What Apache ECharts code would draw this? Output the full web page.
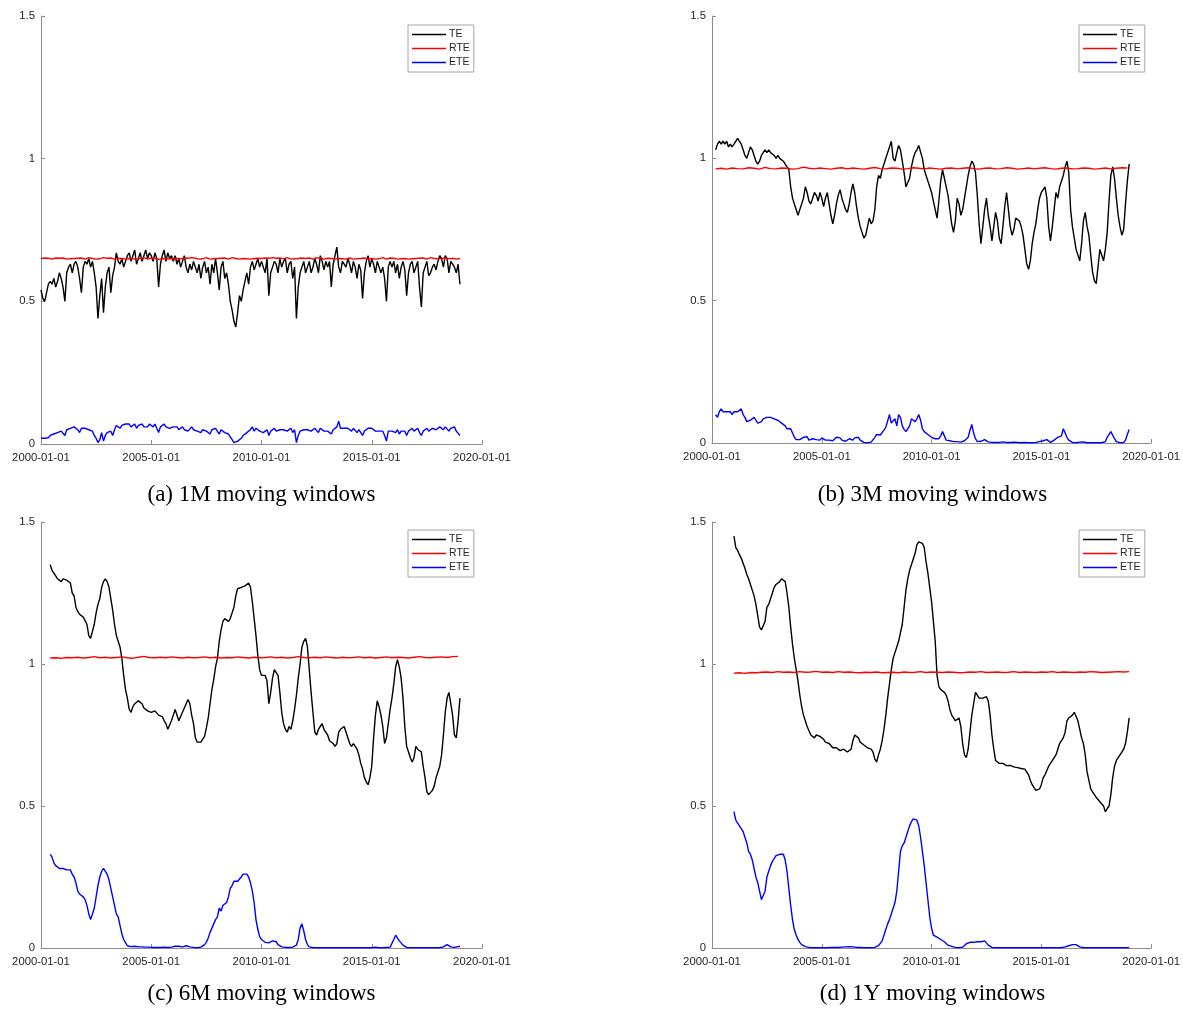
<!DOCTYPE html>
<html>
<head>
<meta charset="utf-8">
<script src="https://cdn.jsdelivr.net/npm/echarts@6/dist/echarts.min.js"></script>
<style>
  html, body { margin: 0; padding: 0; background: #fff; }
  #chart { width: 1183px; height: 1011px; }
</style>
</head>
<body>
<div id="chart"></div>
<script>
// x ticks (years), y ticks
const xTickYears = [2000, 2005, 2010, 2015, 2020]
const yTicks = [0, 0.5, 1, 1.5]
const seriesNames = ['TE', 'RTE', 'ETE']
const captions = ['(a) 1M moving windows', '(b) 3M moving windows', '(c) 6M moving windows', '(d) 1Y moving windows']

// first observation of each panel (fractional year)
const startYears = [2000, 2000 + 2 / 12, 2000 + 5 / 12, 2001]

// ---- (a) 1M, monthly from 2000-01
const teA = [
  0.54,0.51,0.50,0.53,0.56,0.57,0.56,0.58,0.55,0.57,0.60,0.58,
  0.55,0.50,0.60,0.62,0.63,0.60,0.63,0.64,0.62,0.58,0.53,0.62,
  0.64,0.63,0.65,0.62,0.64,0.60,0.55,0.44,0.52,0.58,0.46,0.55,
  0.60,0.62,0.53,0.59,0.62,0.67,0.64,0.63,0.65,0.62,0.64,0.66,
  0.67,0.64,0.66,0.68,0.63,0.65,0.67,0.64,0.66,0.68,0.65,0.67,
  0.66,0.64,0.67,0.65,0.55,0.63,0.66,0.68,0.64,0.67,0.65,0.66,
  0.64,0.66,0.63,0.65,0.62,0.64,0.66,0.62,0.60,0.63,0.61,0.64,
  0.62,0.60,0.63,0.58,0.62,0.64,0.60,0.62,0.56,0.63,0.60,0.65,
  0.60,0.54,0.62,0.64,0.58,0.60,0.56,0.50,0.47,0.43,0.41,0.46,
  0.52,0.50,0.54,0.57,0.60,0.56,0.62,0.64,0.61,0.63,0.65,0.62,
  0.64,0.62,0.60,0.65,0.52,0.60,0.62,0.64,0.63,0.60,0.65,0.62,
  0.64,0.65,0.60,0.63,0.64,0.58,0.62,0.44,0.55,0.60,0.62,0.64,
  0.60,0.62,0.64,0.60,0.62,0.65,0.63,0.60,0.66,0.64,0.61,0.64,
  0.62,0.64,0.55,0.63,0.66,0.69,0.62,0.60,0.64,0.63,0.62,0.65,
  0.63,0.60,0.64,0.62,0.58,0.63,0.61,0.51,0.60,0.64,0.66,0.62,
  0.65,0.63,0.60,0.64,0.62,0.60,0.62,0.58,0.50,0.62,0.64,0.62,
  0.64,0.60,0.63,0.58,0.62,0.64,0.61,0.52,0.60,0.63,0.64,0.60,
  0.62,0.64,0.55,0.48,0.60,0.62,0.64,0.59,0.60,0.62,0.63,0.61,
  0.64,0.66,0.65,0.62,0.66,0.65,0.60,0.64,0.63,0.62,0.60,0.63,
  0.56
]
const rteA = [
  .650,.648,.652,.649,.651,.653,.648,.650,.652,.647,.651,.649,
  .652,.650,.648,.651,.649,.653,.650,.647,.651,.649,.652,.650,
  .648,.651,.653,.649,.650,.652,.648,.651,.649,.650,.653,.648,
  .651,.649,.652,.650,.648,.653,.651,.649,.650,.652,.648,.651,
  .650,.653,.649,.651,.648,.652,.650,.649,.653,.651,.648,.650,
  .652,.649,.651,.650,.647,.652,.650,.653,.649,.651,.648,.652,
  .650,.648,.651,.653,.649,.650,.652,.648,.651,.650,.653,.649,
  .651,.650,.648,.652,.649,.651,.653,.650,.648,.651,.649,.652,
  .650,.647,.651,.649,.652,.650,.648,.651,.653,.649,.650,.652,
  .648,.651,.650,.653,.649,.651,.648,.652,.650,.649,.651,.653,
  .650,.648,.652,.649,.651,.650,.653,.648,.651,.649,.652,.650,
  .649,.651,.653,.650,.648,.652,.649,.651,.650,.648,.652,.651,
  .650,.649,.652,.651,.648,.650,.653,.649,.651,.650,.648,.652,
  .651,.649,.650,.653,.648,.651,.650,.652,.649,.651,.648,.650,
  .652,.650,.648,.651,.649,.653,.650,.648,.652,.650,.649,.651,
  .650,.652,.648,.651,.649,.650,.653,.651,.648,.650,.652,.649,
  .651,.650,.648,.652,.649,.651,.650,.653,.648,.651,.649,.652,
  .650,.648,.651,.649,.652,.650,.648,.651,.653,.649,.650,.652,
  .649,.651,.650,.648,.652,.650,.649,.653,.651,.650,.648,.651,
  .650
]
const eteA = [
  0.020,0.018,0.020,0.025,0.022,0.030,0.028,0.035,0.030,0.040,0.035,0.045,
  0.040,0.030,0.050,0.045,0.055,0.050,0.060,0.055,0.050,0.040,0.055,0.060,
  0.055,0.060,0.050,0.055,0.045,0.030,0.020,0.005,0.015,0.040,0.010,0.030,
  0.040,0.035,0.045,0.030,0.050,0.065,0.060,0.055,0.065,0.060,0.070,0.065,
  0.070,0.060,0.065,0.070,0.055,0.065,0.060,0.070,0.060,0.065,0.060,0.070,
  0.065,0.060,0.070,0.055,0.040,0.060,0.065,0.070,0.060,0.065,0.055,0.060,
  0.060,0.055,0.060,0.050,0.055,0.060,0.050,0.055,0.045,0.050,0.060,0.050,
  0.055,0.045,0.050,0.040,0.050,0.055,0.045,0.050,0.035,0.050,0.045,0.055,
  0.050,0.035,0.050,0.055,0.040,0.045,0.035,0.025,0.015,0.005,0.003,0.010,
  0.015,0.020,0.030,0.025,0.040,0.045,0.050,0.060,0.045,0.055,0.050,0.045,
  0.050,0.040,0.045,0.050,0.030,0.045,0.050,0.055,0.045,0.040,0.050,0.045,
  0.050,0.055,0.045,0.050,0.055,0.040,0.050,0.005,0.030,0.045,0.050,0.050,
  0.045,0.050,0.055,0.045,0.050,0.055,0.050,0.040,0.055,0.050,0.045,0.050,
  0.045,0.050,0.035,0.050,0.055,0.060,0.080,0.055,0.050,0.055,0.050,0.055,
  0.050,0.045,0.055,0.050,0.040,0.050,0.045,0.030,0.045,0.050,0.055,0.050,
  0.055,0.050,0.045,0.050,0.045,0.040,0.045,0.030,0.010,0.045,0.050,0.045,
  0.050,0.040,0.050,0.035,0.045,0.050,0.045,0.030,0.045,0.050,0.055,0.045,
  0.050,0.055,0.040,0.030,0.045,0.050,0.055,0.045,0.050,0.055,0.060,0.050,
  0.055,0.060,0.055,0.050,0.060,0.055,0.045,0.055,0.050,0.060,0.045,0.050,
  0.030
]

// ---- (b) 3M, monthly from 2000-03
const teB = [
  1.03,1.05,1.06,1.05,1.06,1.05,1.06,1.04,1.05,1.04,
  1.05,1.06,1.07,1.07,1.05,1.03,1.01,1.00,1.02,1.04,1.03,1.01,
  0.99,0.98,0.99,1.01,1.02,1.03,1.02,1.03,1.02,1.02,1.01,1.00,
  1.01,1.00,1.00,0.99,0.98,0.97,0.96,0.90,0.86,0.84,0.82,0.80,
  0.80,0.84,0.86,0.90,0.88,0.85,0.84,0.86,0.88,0.87,0.85,0.88,
  0.86,0.83,0.86,0.88,0.84,0.80,0.77,0.80,0.84,0.87,0.89,0.86,
  0.84,0.82,0.81,0.84,0.88,0.91,0.88,0.83,0.79,0.76,0.74,0.72,
  0.73,0.76,0.79,0.77,0.78,0.82,0.90,0.94,0.93,0.96,0.98,1.00,
  1.02,1.04,1.06,1.00,0.99,1.02,1.045,1.03,0.99,0.95,0.90,0.90,
  0.93,0.97,1.00,1.02,1.03,1.045,1.04,1.00,0.96,0.94,0.92,0.90,
  0.88,0.85,0.82,0.79,0.85,0.92,0.96,0.93,0.90,0.87,0.82,0.77,
  0.74,0.78,0.86,0.84,0.80,0.82,0.86,0.90,0.94,0.97,0.99,0.98,
  0.95,0.87,0.77,0.70,0.76,0.82,0.86,0.80,0.76,0.71,0.76,0.81,
  0.78,0.72,0.70,0.76,0.83,0.88,0.82,0.76,0.73,0.75,0.79,0.79,
  0.78,0.76,0.73,0.68,0.63,0.61,0.64,0.70,0.74,0.77,0.82,0.86,
  0.88,0.89,0.90,0.86,0.76,0.71,0.76,0.82,0.88,0.86,0.90,0.92,
  0.94,0.97,0.99,0.95,0.82,0.76,0.72,0.68,0.66,0.64,0.70,0.78,
  0.81,0.76,0.73,0.66,0.60,0.57,0.56,0.62,0.68,0.66,0.64,0.68,
  0.74,0.85,0.94,0.97,0.93,0.86,0.80,0.76,0.73,0.75,0.84,0.92,
  0.98
]
const rteB = [
  .963,.965,.962,.966,.964,.963,.967,.965,.962,.968,
  .964,.963,.966,.965,.962,.964,.969,.965,.963,.966,
  .964,.962,.965,.967,.963,.966,.964,.962,.965,.968,
  .964,.963,.966,.965,.962,.964,.967,.965,.963,.966,
  .964,.962,.965,.966,.963,.965,.967,.964,.962,.965,
  .966,.963,.964,.967,.965,.962,.964,.966,.963,.965,
  .967,.964,.962,.965,.966,.963,.964,.966,.965,.962,
  .964,.966,.963,.965,.967,.966
]
const eteB = [
  0.100,0.090,0.110,0.120,0.110,0.115,0.110,0.105,0.110,0.100,
  0.110,0.105,0.110,0.115,0.120,0.100,0.090,0.075,0.070,0.080,0.085,0.090,
  0.080,0.070,0.065,0.075,0.085,0.080,0.090,0.085,0.090,0.088,0.085,0.080,
  0.080,0.075,0.070,0.065,0.060,0.050,0.045,0.050,0.035,0.020,0.012,0.010,
  0.012,0.015,0.020,0.018,0.022,0.010,0.008,0.015,0.020,0.012,0.008,0.010,
  0.018,0.020,0.010,0.006,0.010,0.005,0.008,0.012,0.020,0.025,0.018,0.010,
  0.008,0.006,0.010,0.015,0.012,0.010,0.018,0.025,0.020,0.010,0.005,0.002,
  0.002,0.001,0.001,0.003,0.008,0.020,0.030,0.035,0.028,0.030,0.045,0.055,
  0.060,0.100,0.070,0.065,0.085,0.060,0.100,0.090,0.060,0.048,0.040,0.035,
  0.060,0.085,0.080,0.075,0.085,0.100,0.080,0.050,0.040,0.035,0.030,0.025,
  0.020,0.015,0.015,0.010,0.015,0.025,0.040,0.025,0.010,0.008,0.008,0.006,
  0.005,0.004,0.005,0.006,0.003,0.005,0.008,0.010,0.020,0.045,0.065,0.035,
  0.015,0.005,0.004,0.006,0.010,0.012,0.008,0.004,0.003,0.002,0.003,0.002,
  0.001,0.002,0.003,0.004,0.006,0.002,0.001,0.002,0.008,0.003,0.001,0.002,
  0.002,0.001,0.001,0.002,0.001,0.001,0.002,0.001,0.001,0.002,0.003,0.005,
  0.010,0.008,0.015,0.012,0.005,0.002,0.005,0.010,0.015,0.020,0.015,0.025,
  0.050,0.045,0.020,0.010,0.005,0.002,0.001,0.001,0.002,0.003,0.005,0.004,
  0.002,0.001,0.001,0.001,0.002,0.001,0.001,0.001,0.001,0.001,0.002,0.005,
  0.020,0.030,0.040,0.035,0.015,0.005,0.001,0.001,0.001,0.002,0.010,0.030,
  0.047
]

// ---- (c) 6M, monthly from 2000-06
const teC = [
  1.35,1.33,1.32,1.31,1.30,1.30,1.29,
  1.30,1.30,1.295,1.29,1.285,1.25,1.24,1.20,1.185,1.175,1.17,1.165,
  1.16,1.14,1.10,1.09,1.095,1.14,1.18,1.21,1.23,1.27,1.29,1.30,
  1.29,1.27,1.23,1.19,1.14,1.10,1.08,1.06,1.02,0.96,0.91,0.88,
  0.84,0.83,0.85,0.86,0.855,0.87,0.875,0.86,0.845,0.84,0.835,0.84,
  0.83,0.83,0.835,0.83,0.82,0.82,0.815,0.80,0.79,0.77,0.775,0.80,
  0.82,0.84,0.845,0.80,0.795,0.83,0.845,0.86,0.875,0.86,0.82,0.79,
  0.74,0.725,0.72,0.725,0.73,0.745,0.775,0.81,0.86,0.91,0.945,0.99,
  1.02,1.08,1.12,1.15,1.16,1.155,1.15,1.16,1.18,1.20,1.24,1.265,
  1.265,1.27,1.27,1.275,1.28,1.285,1.27,1.22,1.16,1.10,1.03,0.98,
  0.96,0.965,0.96,0.94,0.86,0.90,0.95,0.98,0.97,0.96,0.90,0.83,
  0.79,0.77,0.76,0.78,0.77,0.80,0.84,0.89,0.95,1.00,1.06,1.08,
  1.09,1.06,0.98,0.90,0.83,0.76,0.75,0.77,0.78,0.79,0.77,0.775,
  0.75,0.73,0.725,0.72,0.71,0.72,0.76,0.77,0.775,0.78,0.76,0.74,
  0.72,0.71,0.72,0.715,0.70,0.68,0.65,0.63,0.60,0.585,0.575,0.60,
  0.64,0.74,0.82,0.87,0.85,0.82,0.78,0.72,0.74,0.79,0.84,0.88,
  0.93,0.99,1.015,0.99,0.95,0.88,0.78,0.71,0.69,0.67,0.655,0.67,
  0.71,0.70,0.705,0.69,0.64,0.60,0.55,0.54,0.545,0.555,0.57,0.60,
  0.62,0.64,0.68,0.75,0.83,0.88,0.90,0.90,0.82,0.75,0.74,0.80,
  0.88
]
const rteC = [
  1.021,1.022,1.020,1.023,1.022,1.024,1.021,1.023,1.026,1.022,
  1.024,1.021,1.023,1.025,1.022,1.020,1.024,1.027,1.023,1.022,
  1.024,1.022,1.025,1.023,1.021,1.024,1.022,1.023,1.025,1.022,
  1.024,1.021,1.023,1.022,1.025,1.023,1.021,1.024,1.022,1.023,
  1.025,1.022,1.024,1.021,1.023,1.026,1.023,1.022,1.024,1.022,
  1.025,1.023,1.021,1.024,1.022,1.023,1.025,1.022,1.024,1.021,
  1.023,1.025,1.022,1.024,1.023,1.021,1.024,1.026,1.023,1.022,
  1.024,1.025,1.023,1.026,1.027
]
const eteC = [
  0.330,0.320,0.300,0.290,0.285,0.280,0.285,
  0.280,0.280,0.275,0.270,0.275,0.260,0.250,0.230,0.200,0.190,0.190,0.180,
  0.170,0.150,0.120,0.100,0.105,0.140,0.180,0.220,0.250,0.270,0.280,0.275,
  0.260,0.240,0.210,0.180,0.150,0.120,0.110,0.080,0.050,0.030,0.018,0.008,
  0.006,0.005,0.005,0.006,0.005,0.004,0.005,0.004,0.004,0.003,0.003,0.003,
  0.002,0.002,0.003,0.002,0.002,0.002,0.002,0.003,0.002,0.002,0.003,0.003,
  0.004,0.006,0.010,0.006,0.003,0.004,0.006,0.008,0.006,0.004,0.002,0.002,
  0.001,0.001,0.002,0.003,0.006,0.012,0.020,0.035,0.055,0.070,0.085,0.100,
  0.110,0.140,0.130,0.150,0.145,0.160,0.180,0.210,0.220,0.235,0.240,0.235,
  0.240,0.250,0.260,0.255,0.260,0.250,0.230,0.200,0.160,0.100,0.065,0.040,
  0.030,0.025,0.020,0.020,0.018,0.020,0.025,0.030,0.022,0.012,0.006,0.004,
  0.003,0.002,0.002,0.002,0.002,0.003,0.005,0.010,0.030,0.070,0.085,0.060,
  0.030,0.012,0.004,0.002,0.001,0.001,0.001,0.001,0.001,0.001,0.001,0.001,
  0.001,0.001,0.001,0.001,0.001,0.001,0.001,0.001,0.001,0.001,0.001,0.001,
  0.001,0.001,0.001,0.001,0.001,0.001,0.001,0.001,0.001,0.001,0.001,0.001,
  0.001,0.002,0.003,0.002,0.001,0.001,0.001,0.001,0.002,0.002,0.003,0.010,
  0.030,0.045,0.035,0.025,0.018,0.010,0.005,0.002,0.001,0.001,0.001,0.001,
  0.001,0.001,0.001,0.001,0.001,0.001,0.001,0.001,0.001,0.001,0.001,0.001,
  0.001,0.001,0.002,0.004,0.008,0.012,0.010,0.004,0.002,0.002,0.003,0.005,
  0.006
]

// ---- (d) 1Y, monthly from 2001-01
const teD = [
  1.45,1.41,1.40,1.385,1.372,1.355,1.337,1.315,1.30,1.28,1.26,1.24,
  1.21,1.17,1.13,1.12,1.12,1.15,1.20,1.21,1.23,1.25,1.27,1.28,
  1.285,1.29,1.30,1.305,1.29,1.25,1.20,1.13,1.07,1.02,0.98,0.94,
  0.89,0.85,0.82,0.80,0.78,0.765,0.75,0.745,0.74,0.75,0.745,0.745,
  0.74,0.735,0.725,0.73,0.72,0.715,0.705,0.70,0.705,0.70,0.695,0.70,
  0.70,0.70,0.69,0.685,0.70,0.73,0.75,0.755,0.74,0.725,0.72,0.715,
  0.71,0.705,0.705,0.70,0.69,0.665,0.655,0.68,0.70,0.73,0.77,0.82,
  0.88,0.93,0.98,1.02,1.04,1.06,1.08,1.11,1.14,1.20,1.26,1.30,
  1.33,1.35,1.37,1.39,1.42,1.43,1.43,1.425,1.41,1.36,1.32,1.27,
  1.22,1.15,1.08,0.96,0.92,0.91,0.905,0.90,0.89,0.87,0.84,0.82,
  0.81,0.80,0.795,0.81,0.78,0.72,0.68,0.67,0.70,0.76,0.82,0.86,
  0.90,0.89,0.88,0.875,0.88,0.88,0.885,0.87,0.82,0.75,0.70,0.66,
  0.655,0.65,0.648,0.65,0.645,0.642,0.64,0.643,0.64,0.638,0.64,0.635,
  0.635,0.632,0.635,0.63,0.625,0.61,0.59,0.575,0.565,0.555,0.55,0.56,
  0.575,0.60,0.61,0.625,0.64,0.65,0.66,0.67,0.68,0.70,0.72,0.73,
  0.74,0.76,0.80,0.81,0.815,0.82,0.83,0.83,0.80,0.77,0.74,0.72,
  0.68,0.62,0.59,0.56,0.55,0.54,0.53,0.525,0.515,0.51,0.50,0.48,
  0.475,0.50,0.54,0.60,0.64,0.66,0.67,0.68,0.69,0.70,0.72,0.76,
  0.81
]
const rteD = [
  .968,.969,.967,.970,.969,.971,.972,.970,.973,.971,
  .972,.970,.973,.971,.972,.974,.971,.972,.970,.973,
  .971,.972,.970,.969,.971,.970,.972,.969,.970,.971,
  .969,.972,.970,.971,.973,.970,.972,.971,.970,.972,
  .971,.969,.970,.972,.971,.973,.970,.971,.972,.970,
  .971,.973,.970,.972,.971,.970,.972,.971,.973,.970,
  .972,.971,.970,.972,.971,.973,.972,.970,.971,.972,
  .973,.972,.973
]
const eteD = [
  0.48,0.45,0.44,0.43,0.42,0.41,0.39,0.37,0.34,0.33,0.31,0.28,
  0.25,0.23,0.20,0.17,0.175,0.20,0.25,0.27,0.29,0.305,0.315,0.325,
  0.33,0.33,0.335,0.33,0.31,0.27,0.21,0.15,0.10,0.065,0.045,0.03,
  0.02,0.012,0.008,0.005,0.003,0.002,0.001,0.001,0.001,0.001,0.001,0.001,
  0.001,0.001,0.001,0.001,0.001,0.002,0.002,0.002,0.002,0.002,0.003,0.003,
  0.003,0.004,0.004,0.005,0.005,0.004,0.003,0.002,0.002,0.002,0.001,0.001,
  0.001,0.001,0.001,0.001,0.001,0.002,0.004,0.008,0.015,0.025,0.045,0.065,
  0.085,0.10,0.12,0.14,0.16,0.20,0.27,0.34,0.36,0.37,0.39,0.41,
  0.43,0.445,0.455,0.455,0.45,0.43,0.39,0.34,0.29,0.23,0.17,0.11,
  0.07,0.045,0.04,0.038,0.035,0.03,0.028,0.022,0.015,0.01,0.008,0.006,
  0.004,0.002,0.001,0.001,0.001,0.003,0.008,0.015,0.022,0.02,0.018,0.02,
  0.022,0.022,0.02,0.022,0.024,0.025,0.02,0.01,0.004,0.002,0.001,0.001,
  0.001,0.001,0.001,0.001,0.001,0.001,0.001,0.001,0.001,0.001,0.001,0.001,
  0.001,0.001,0.001,0.001,0.001,0.001,0.001,0.001,0.001,0.001,0.001,0.001,
  0.001,0.001,0.001,0.001,0.001,0.001,0.001,0.001,0.001,0.001,0.001,0.001,
  0.002,0.004,0.006,0.008,0.01,0.012,0.013,0.012,0.008,0.004,0.002,0.001,
  0.001,0.001,0.001,0.001,0.001,0.001,0.001,0.001,0.001,0.001,0.001,0.001,
  0.001,0.001,0.001,0.001,0.001,0.001,0.001,0.001,0.001,0.001,0.001,0.001,
  0.001
]

const panels = [
  { te: teA, rte: rteA, ete: eteA, rteStep: 1 / 12 },
  { te: teB, rte: rteB, ete: eteB, rteStep: 0.25 },
  { te: teC, rte: rteC, ete: eteC, rteStep: 0.25 },
  { te: teD, rte: rteD, ete: eteD, rteStep: 0.25 },
]

const colors = { TE: '#000000', RTE: '#ff0000', ETE: '#0000ff' }
const axisGray = '#8c8c8c'
const labelColor = '#262626'
const sans = '"Liberation Sans", Arial, Helvetica, sans-serif'

// layout of the 2x2 figure
const grids = [
  { left: 41, top: 16, width: 441, height: 428 },
  { left: 712, top: 16, width: 441, height: 427 },
  { left: 41, top: 522, width: 441, height: 426 },
  { left: 712, top: 522, width: 441, height: 426 },
]
const legendPos = [
  { left: 408, top: 25 },
  { left: 1079, top: 25 },
  { left: 408, top: 530 },
  { left: 1079, top: 530 },
]
const captionPos = [
  { x: 261.5, y: 495 },
  { x: 932.5, y: 495 },
  { x: 261.5, y: 994 },
  { x: 932.5, y: 994 },
]

function toPairs(start, step, values) {
  return values.map((v, i) => [start + i * step, v])
}

const chart = echarts.init(document.getElementById('chart'), null, { renderer: 'canvas' })

const xAxes = grids.map((g, i) => ({
  type: 'value',
  gridIndex: i,
  min: xTickYears[0],
  max: xTickYears[xTickYears.length - 1],
  interval: xTickYears[1] - xTickYears[0],
  splitLine: { show: false },
  axisLine: { show: true, lineStyle: { color: axisGray, width: 1 } },
  axisTick: { show: true, inside: true, length: 4, lineStyle: { color: axisGray } },
  axisLabel: {
    color: labelColor, fontFamily: sans, fontSize: 11.3, margin: 8,
    showMinLabel: true, showMaxLabel: true,
    formatter: v => v + '-01-01',
  },
}))

const yAxes = grids.map((g, i) => ({
  type: 'value',
  gridIndex: i,
  min: yTicks[0],
  max: yTicks[yTicks.length - 1],
  interval: yTicks[1] - yTicks[0],
  splitLine: { show: false },
  axisLine: { show: true, lineStyle: { color: axisGray, width: 1 } },
  axisTick: { show: true, inside: true, length: 4, lineStyle: { color: axisGray } },
  axisLabel: { color: labelColor, fontFamily: sans, fontSize: 11.3, margin: 6 },
}))

const series = []
panels.forEach((p, i) => {
  const data = {
    TE: toPairs(startYears[i], 1 / 12, p.te),
    RTE: toPairs(startYears[i], p.rteStep, p.rte),
    ETE: toPairs(startYears[i], 1 / 12, p.ete),
  }
  seriesNames.forEach(name => {
    series.push({
      name,
      type: 'line',
      xAxisIndex: i,
      yAxisIndex: i,
      data: data[name],
      symbol: 'none',
      lineStyle: { color: colors[name], width: 1.4 },
      itemStyle: { color: colors[name] },
      z: name === 'RTE' ? 3 : 2,
    })
  })
})

const legends = legendPos.map(pos => ({
  ...pos,
  orient: 'vertical',
  data: seriesNames,
  icon: 'rect',
  itemWidth: 34,
  itemHeight: 1.4,
  itemGap: 3,
  padding: [4, 4, 4, 4],
  borderColor: '#a6a6a6',
  borderWidth: 1,
  backgroundColor: '#fff',
  selectedMode: false,
  textStyle: { color: labelColor, fontFamily: sans, fontSize: 10.5, lineHeight: 11, padding: [0, 0, 0, -2] },
}))

const graphic = captions.map((text, i) => ({
  type: 'text',
  x: captionPos[i].x,
  y: captionPos[i].y,
  style: {
    text,
    font: '23px "Liberation Serif", "Times New Roman", serif',
    fill: '#000',
    align: 'center',
    verticalAlign: 'middle',
  },
}))

chart.setOption({
  animation: false,
  backgroundColor: '#fff',
  grid: grids.map(g => ({ ...g, containLabel: false })),
  xAxis: xAxes,
  yAxis: yAxes,
  legend: legends,
  graphic,
  series,
})
</script>
</body>
</html>
